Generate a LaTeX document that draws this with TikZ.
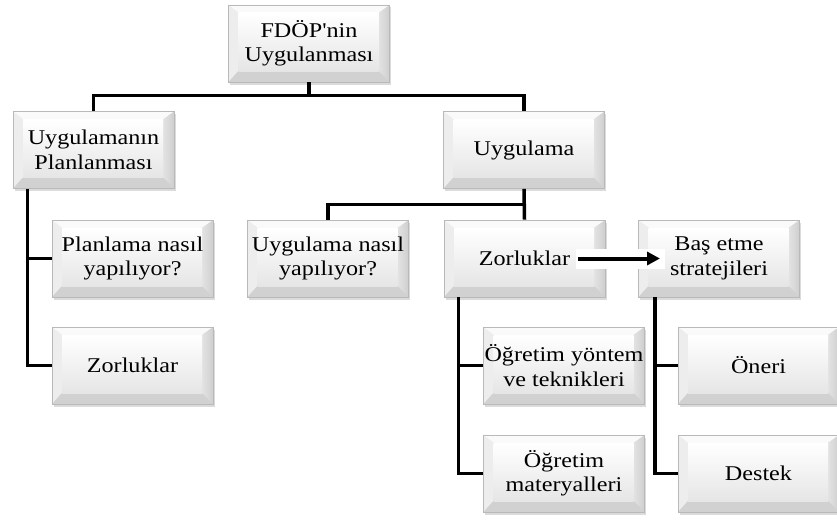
\documentclass[tikz,border=0pt]{standalone}
\usepackage{fontspec}
\usetikzlibrary{calc,arrows.meta,shadows}
\newfontfamily\boxfont[FakeStretch=1.15]{Liberation Serif}
\newcommand\boxtext{\boxfont\fontsize{21}{24.5}\selectfont}

\tikzset{
  bevelbox/.style={
    minimum width=161pt, minimum height=77pt, inner sep=0pt, align=center,
    font=\boxtext, draw=gray!55, line width=0.6pt,
    drop shadow={shadow xshift=1.5pt, shadow yshift=-2.5pt, opacity=0.35, fill=gray!80},
    path picture={
      \coordinate (p1) at (path picture bounding box.south west);
      \coordinate (p2) at (path picture bounding box.north east);
      \coordinate (q1) at ($(p1)+(10pt,11pt)$);
      \coordinate (q2) at ($(p2)-(11pt,8pt)$);
      % bevel faces
      \fill[gray!4]  (p1|-p2) -- (p2) -- (q2) -- (q1|-q2) -- cycle;
      \fill[gray!14] (p1) -- (p1|-p2) -- (q1|-q2) -- (q1) -- cycle;
      \shade[left color=gray!22, right color=gray!38]
            (p2) -- (p2|-p1) -- (q2|-q1) -- (q2) -- cycle;
      \fill[gray!36] (p1) -- (p2|-p1) -- (q2|-q1) -- (q1) -- cycle;
      % flat front face
      \shade[top color=white, bottom color=gray!20] (q1) rectangle (q2);
    }
  },
  conn/.style={line width=3.5pt, black},
}

\begin{document}
\begin{tikzpicture}[x=1pt, y=-1pt]
\useasboundingbox (0,0) rectangle (837,519);
\clip (0,0) rectangle (837,519);

% boxes
\node[bevelbox] (top) at (309,43.5)  {FDÖP'nin\\Uygulanması};
\node[bevelbox] (A)   at (93.5,150)  {Uygulamanın\\Planlanması};
\node[bevelbox] (B)   at (524,150)   {Uygulama};
\node[bevelbox] (A1)  at (132.5,258.5) {Planlama nasıl\\yapılıyor?};
\node[bevelbox] (A2)  at (132.5,365.5) {Zorluklar};
\node[bevelbox] (B1)  at (328,258.5) {Uygulama nasıl\\yapılıyor?};
\node[bevelbox] (B2)  at (524.5,258.5) {Zorluklar};
\node[bevelbox] (C)   at (719,258.5) {Baş etme\\stratejileri};
\node[bevelbox] (B2a) at (564,365.5) {Öğretim yöntem\\ve teknikleri};
\node[bevelbox] (B2b) at (564,473.5) {Öğretim\\materyalleri};
\node[bevelbox] (C1)  at (758.5,365.5) {Öneri};
\node[bevelbox] (C2)  at (758.5,473.5) {Destek};

% tree connectors
\coordinate (j0) at ($(top.south)+(0,13)$);
\draw[conn] (top.south) -- (j0);
\draw[conn] (A.north) |- (j0) -| (B.north);

\coordinate (sa) at ($(A.south west)+(15,0)$);
\draw[conn] (sa) |- (A1.west);
\draw[conn] (sa) |- (A2.west);

\draw[conn] (B.south) -- (B2.north);
\draw[conn] ($(B.south)!0.5!(B2.north)$) -| (B1.north);

\coordinate (sb) at ($(B2.south west)+(15,0)$);
\draw[conn] (sb) |- (B2a.west);
\draw[conn] (sb) |- (B2b.west);

\coordinate (sc) at ($(C.south west)+(17,0)$);
\draw[conn] (sc) |- (C1.west);
\draw[conn] (sc) |- (C2.west);

% arrow from the challenges to the coping strategies
\coordinate (a0) at ($(B2.center)+(53,0)$);
\coordinate (a1) at ($(C.center)+(-59,0)$);
\fill[white] ($(a0)+(-2,-10)$) rectangle ($(a1)+(5,10)$);
\draw[line width=4pt, -{Triangle[length=13pt,width=13pt]}] (a0) -- (a1);
\end{tikzpicture}
\end{document}
